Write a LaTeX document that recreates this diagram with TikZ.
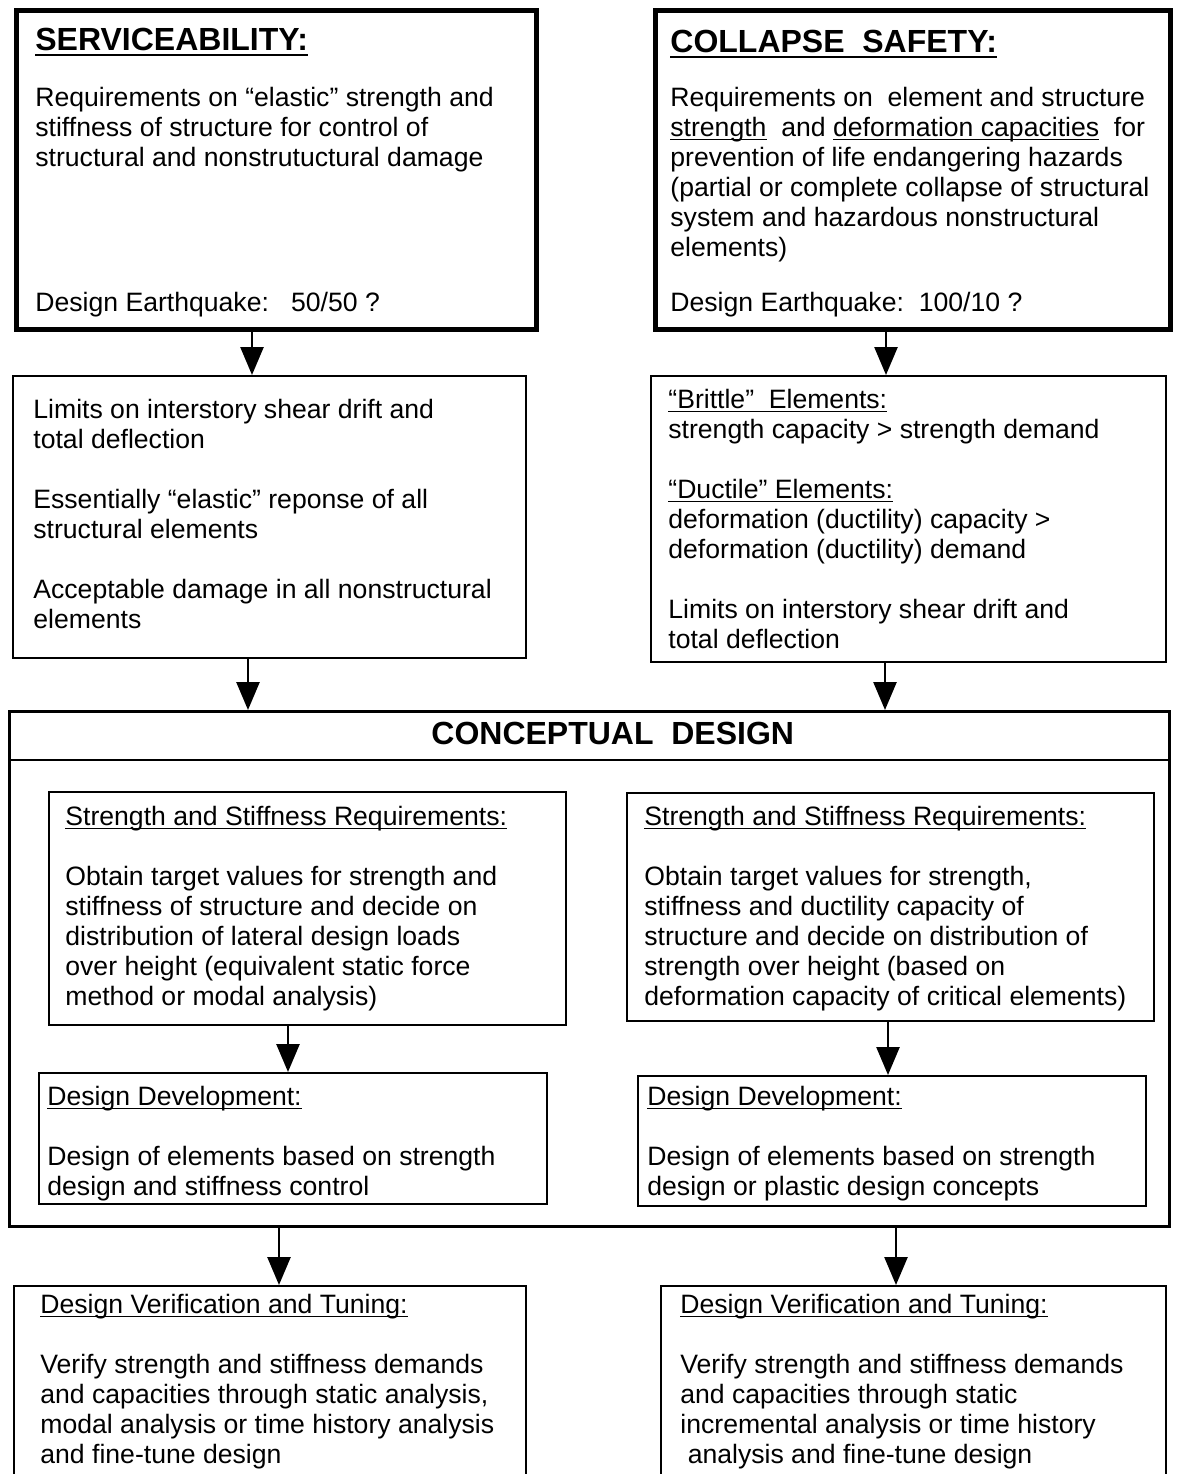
\documentclass[tikz,border=0pt]{standalone}
\usepackage{fontspec}
\setmainfont{Liberation Sans}
\usetikzlibrary{arrows.meta}
\newsavebox\ulbox
\newcommand\ul[1]{\sbox\ulbox{#1}\rlap{\rule[-1.8pt]{\wd\ulbox}{0.7pt}}\usebox\ulbox}
\newcommand\hul[1]{\sbox\ulbox{#1}\rlap{\rule[-3.2pt]{\wd\ulbox}{1.3pt}}\usebox\ulbox}
\tikzset{
  thickbox/.style={draw, line width=2.3pt, rectangle, inner sep=0, anchor=north west},
  thinbox/.style={draw, line width=1.2pt, rectangle, inner sep=0, anchor=north west},
  txt/.style={anchor=north west, inner sep=0, align=left, font=\fontsize{13.3}{15}\selectfont},
  line/.style={anchor=base west, inner sep=0, font=\fontsize{13.3}{15}\selectfont},
  head/.style={anchor=base west, inner sep=0, font=\fontsize{16}{19}\selectfont\bfseries},
  arr/.style={line width=1.3pt, -{Triangle[width=11.5pt,length=14pt]}}
}
\begin{document}
\begin{tikzpicture}[x=0.5pt,y=-0.5pt]
\useasboundingbox (0,0) rectangle (1177,1474);
% boxes
\node[thickbox, minimum width=260pt, minimum height=159.5pt] (s1) at (14,8) {};
\node[thickbox, minimum width=257.5pt, minimum height=159.5pt] (c1) at (653,8) {};
\node[thinbox, minimum width=256.5pt, minimum height=141pt] (s2) at (12,375) {};
\node[thinbox, minimum width=257.5pt, minimum height=143pt] (c2) at (650,375) {};
\node[thinbox, line width=1.4pt, minimum width=580pt, minimum height=257.5pt] (cd) at (8,710) {};
\node[thinbox, minimum width=258.5pt, minimum height=116.5pt] (l1) at (48,791) {};
\node[thinbox, minimum width=263.5pt, minimum height=114pt] (r1) at (626,792) {};
\node[thinbox, minimum width=254pt, minimum height=65.5pt] (l2) at (38,1072) {};
\node[thinbox, minimum width=254pt, minimum height=65pt] (r2) at (637,1075) {};
\node[thinbox, minimum width=256pt, minimum height=110pt] (l3) at (13,1285) {};
\node[thinbox, minimum width=252.5pt, minimum height=110pt] (r3) at (660,1285) {};
\draw[line width=1.4pt] (cd.north west) ++(0,50) coordinate (hl) -- (hl -| cd.east);

% texts
\node[head] (s1h) at (35,50) {\hul{SERVICEABILITY:}};
\node[txt] (s1t) at (35,85) {\strut Requirements on ``elastic'' strength and\\stiffness of structure for control of\\structural and nonstrutuctural damage};
\node[line] (s1d) at (35,311) {Design Earthquake:~~~50/50 ?};

\node[head] (c1h) at (670,52) {\hul{COLLAPSE~~SAFETY:}};
\node[txt] (c1t) at (670,85) {\strut Requirements on~~element and structure\\\ul{strength}~~and \ul{deformation capacities}~~for\\prevention of life endangering hazards\\(partial or complete collapse of structural\\system and hazardous nonstructural\\elements)};
\node[line] (c1d) at (670,311) {Design Earthquake:~~100/10 ?};

\node[txt] (s2t) at (33,397) {\strut Limits on interstory shear drift and\\total deflection\\[15pt]Essentially ``elastic'' reponse of all\\structural elements\\[15pt]Acceptable damage in all nonstructural\\elements};

\node[txt] (c2t) at (668,387) {\strut\ul{``Brittle''~~Elements:}\\strength capacity > strength demand\\[15pt]\ul{``Ductile'' Elements:}\\deformation (ductility) capacity >\\deformation (ductility) demand\\[15pt]Limits on interstory shear drift and\\total deflection};

\node[head] (cdh) at (431,744) {CONCEPTUAL~~DESIGN};

\node[txt] (l1t) at (65,804) {\strut\ul{Strength and Stiffness Requirements:}\\[15pt]Obtain target values for strength and\\stiffness of structure and decide on\\distribution of lateral design loads\\over height (equivalent static force\\method or modal analysis)};
\node[txt] (r1t) at (644,804) {\strut\ul{Strength and Stiffness Requirements:}\\[15pt]Obtain target values for strength,\\stiffness and ductility capacity of\\structure and decide on distribution of\\strength over height (based on\\deformation capacity of critical elements)};

\node[txt] (l2t) at (47,1084) {\strut\ul{Design Development:}\\[15pt]Design of elements based on strength\\design and stiffness control};
\node[txt] (r2t) at (647,1084) {\strut\ul{Design Development:}\\[15pt]Design of elements based on strength\\design or plastic design concepts};

\node[txt] (l3t) at (40,1292) {\strut\ul{Design Verification and Tuning:}\\[15pt]Verify strength and stiffness demands\\and capacities through static analysis,\\modal analysis or time history analysis\\and fine-tune design};
\node[txt] (r3t) at (680,1292) {\strut\ul{Design Verification and Tuning:}\\[15pt]Verify strength and stiffness demands\\and capacities through static\\incremental analysis or time history\\\ analysis and fine-tune design};

% arrows
\draw[arr] (252,0 |- s1.south) -- (252,0 |- s2.north);
\draw[arr] (886,0 |- c1.south) -- (886,0 |- c2.north);
\draw[arr] (248,0 |- s2.south) -- (248,0 |- cd.north);
\draw[arr] (885,0 |- c2.south) -- (885,0 |- cd.north);
\draw[arr] (288,0 |- l1.south) -- (288,0 |- l2.north);
\draw[arr] (888,0 |- r1.south) -- (888,0 |- r2.north);
\draw[arr] (279,0 |- cd.south) -- (279,0 |- l3.north);
\draw[arr] (896,0 |- cd.south) -- (896,0 |- r3.north);
\end{tikzpicture}
\end{document}
